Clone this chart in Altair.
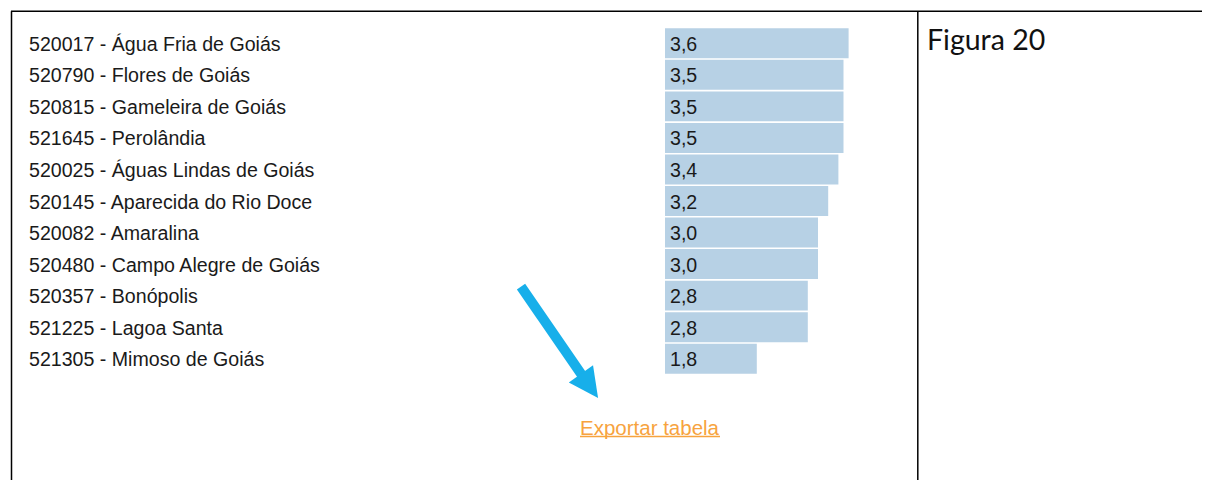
import altair as alt
import pandas as pd

names = [
    "520017 - Água Fria de Goiás",
    "520790 - Flores de Goiás",
    "520815 - Gameleira de Goiás",
    "521645 - Perolândia",
    "520025 - Águas Lindas de Goiás",
    "520145 - Aparecida do Rio Doce",
    "520082 - Amaralina",
    "520480 - Campo Alegre de Goiás",
    "520357 - Bonópolis",
    "521225 - Lagoa Santa",
    "521305 - Mimoso de Goiás",
]
values = [3.6, 3.5, 3.5, 3.5, 3.4, 3.2, 3.0, 3.0, 2.8, 2.8, 1.8]
value_labels = ["3,6", "3,5", "3,5", "3,5", "3,4", "3,2", "3,0", "3,0", "2,8", "2,8", "1,8"]

df = pd.DataFrame({"name": names, "value": values, "label": value_labels})

W, H = 1194, 472

xscale = alt.Scale(domain=[0, 4], range=[657, 657 + 204])
yscale = alt.Scale(domain=names, range=[19.5, 366.5], paddingInner=0.05, paddingOuter=0.025)

base = alt.Chart(df)

bars = base.mark_bar(color="#B7D1E5", cornerRadius=0).encode(
    x=alt.X("value:Q", scale=xscale, axis=None),
    y=alt.Y("name:N", scale=yscale, axis=None, sort=names),
)

FONT = "Liberation Sans"

name_text = base.mark_text(align="left", baseline="middle", font=FONT, fontSize=19.6, color="#1a1a1a", dy=1.5).encode(
    x=alt.value(21),
    y=alt.Y("name:N", scale=yscale, axis=None, sort=names),
    text="name:N",
)

val_text = base.mark_text(align="left", baseline="middle", font=FONT, fontSize=19.6, color="#1a1a1a", dy=1.5).encode(
    x=alt.value(662),
    y=alt.Y("name:N", scale=yscale, axis=None, sort=names),
    text="label:N",
)

one = alt.Data(values=[{}])

def rule(x, y, x2, y2, color="#000000", width=1.5, cap="butt"):
    return alt.Chart(one).mark_rule(color=color, strokeWidth=width, strokeCap=cap).encode(
        x=alt.value(x), y=alt.value(y), x2=alt.value(x2), y2=alt.value(y2)
    )

border_top = rule(3, 3.3, W, 3.3)
border_left = rule(3.5, 3.3, 3.5, H)
border_mid = rule(909.8, 3.3, 909.8, H)

arrow_shaft = rule(513, 278.7, 573.5, 366.5, color="#17AFEA", width=10)
arrow_head = alt.Chart(one).mark_point(
    shape="M-1,-1L1,-1L0,1Z", filled=True, fill="#17AFEA", stroke=None, opacity=1,
    size=880, angle=324.7,
).encode(x=alt.value(581.5), y=alt.value(378))

export_text = alt.Chart(one).mark_text(
    align="left", baseline="alphabetic", font=FONT, fontSize=20.5, color="#F7A33E"
).encode(x=alt.value(572), y=alt.value(426.5), text=alt.value("Exportar tabela"))
export_line = rule(572, 428.5, 712, 428.5, color="#F7A33E", width=1.5)

figura = alt.Chart(one).mark_text(
    align="left", baseline="alphabetic", font="Lato", fontSize=28.5, color="#111111"
).encode(x=alt.value(919), y=alt.value(42), text=alt.value("Figura 20"))

chart = alt.layer(
    bars, name_text, val_text,
    border_top, border_left, border_mid,
    arrow_shaft, arrow_head, export_text, export_line, figura,
).properties(
    width=W, height=H, autosize=alt.AutoSizeParams(type="none"), padding=0, background="#ffffff"
).configure_view(strokeWidth=0)

chart.save("out.html", embed_options={"renderer": "svg", "actions": False})
